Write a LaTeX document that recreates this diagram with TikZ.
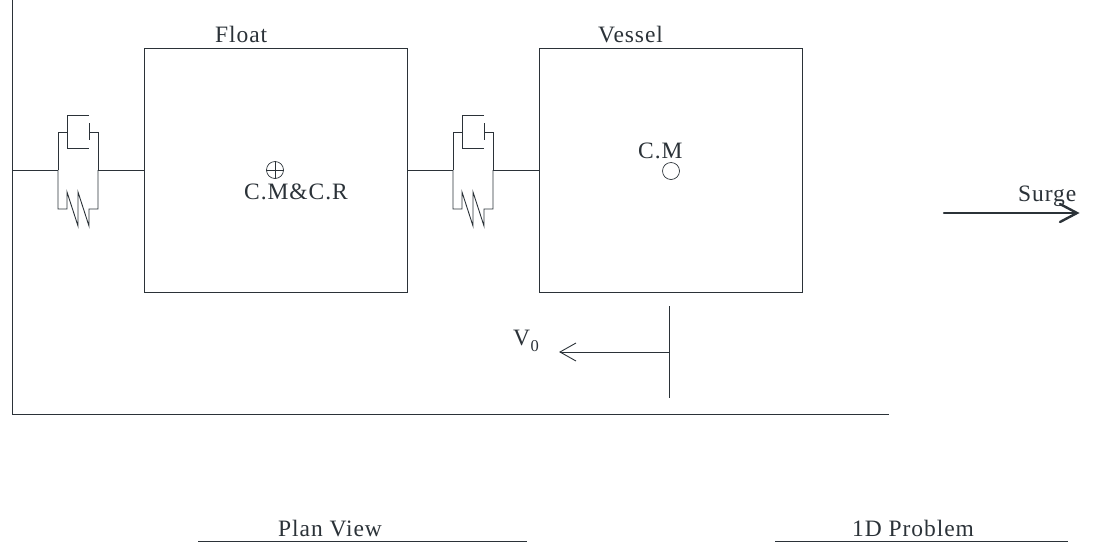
\documentclass[tikz,border=0pt]{standalone}
\usepackage{fontspec}
\setmainfont[LetterSpace=4]{Liberation Serif}
\usetikzlibrary{arrows.meta}
\definecolor{ink}{HTML}{2B3238}
\tikzset{
  x=1pt,y=-1pt,
  ln/.style={draw=ink,line width=0.9pt},
  boxn/.style={ln,rectangle,minimum width=263pt,minimum height=244pt,inner sep=0pt},
  lab/.style={text=ink,font=\fontsize{23.5pt}{28pt}\selectfont,inner sep=0pt},
  kv/.pic={
    \coordinate (-l) at (0,0);
    \coordinate (-r) at (40,0);
    \draw[ln] (0,0) -- (0,-38) -- (9,-38);
    \draw[ln] (31,-55) -- (9,-55) -- (9,-22) -- (31,-22);
    \draw[ln] (31,-47) -- (31,-30);
    \draw[ln] (31,-38) -- (40,-38) -- (40,0);
    \draw[ln] (0,0) -- (0,39) -- (9,39) -- (9,22) -- (20,56) -- (20,22) -- (31,56) -- (31,39) -- (40,39) -- (40,0);
  }
}
\begin{document}
\begin{tikzpicture}
\useasboundingbox (0,0) rectangle (1097,542);
\coordinate (wallT) at (12,0);
\coordinate (corner) at (12,414);
\coordinate (floorE) at (889,414);
\draw[ln] (wallT) -- (corner) -- (floorE);
\coordinate (wallM) at (12,170);
\node[boxn] (float) at (275.5,170) {};
\node[boxn] (vessel) at (670.5,170) {};
\pic (kva) at (58,170) {kv};
\pic (kvb) at (453,170) {kv};
\draw[ln] (wallM) -- (kva-l);
\draw[ln] (kva-r) -- (float.west);
\draw[ln] (float.east) -- (kvb-l);
\draw[ln] (kvb-r) -- (vessel.west);
\node[lab,anchor=base west] (floatl) at (215,42) {Float};
\node[lab,anchor=base west] (vessell) at (598,42) {Vessel};
\node[draw=ink,line width=0.7pt,circle,minimum size=17pt,inner sep=0pt] (cr) at (275,170) {};
\draw[ink,line width=0.7pt] (cr.west) -- (cr.east) (cr.north) -- (cr.south);
\node[lab,anchor=base west] (crl) at (244,199) {C.M\&C.R};
\node[draw=ink,line width=0.7pt,circle,minimum size=17pt,inner sep=0pt] (cm) at (671,171) {};
\node[lab,anchor=base west] (cml) at (638,158) {C.M};
\coordinate (vT) at (669,306);
\coordinate (vB) at (669,398);
\coordinate (vM) at (669,352);
\coordinate (vTip) at (560,352);
\draw[ln] (vT) -- (vB);
\draw[ln] (vM) -- (vTip);
\draw[ln] (576,343) -- (vTip) -- (576,361);
\node[lab,anchor=base west] (v0) at (513,345) {V\kern0.5pt\raisebox{-6pt}{\fontsize{16.5pt}{18pt}\selectfont 0}};
\coordinate (sA) at (944,213);
\coordinate (sB) at (1077,213);
\draw[draw=ink,line width=2.4pt,line cap=round] (sA) -- (sB);
\draw[draw=ink,line width=2.4pt,line cap=round] (1060,204) -- (sB) -- (1060,222);
\node[lab,anchor=base west] (surge) at (1018,201) {Surge};
\node[lab,anchor=base west] (plan) at (278,536) {Plan View};
\node[lab,anchor=base west] (one) at (852,536) {1D Problem};
\coordinate (pA) at (198,541);
\coordinate (pB) at (527,541);
\coordinate (oA) at (775,541);
\coordinate (oB) at (1068,541);
\draw[ln] (pA) -- (pB);
\draw[ln] (oA) -- (oB);
\end{tikzpicture}
\end{document}
